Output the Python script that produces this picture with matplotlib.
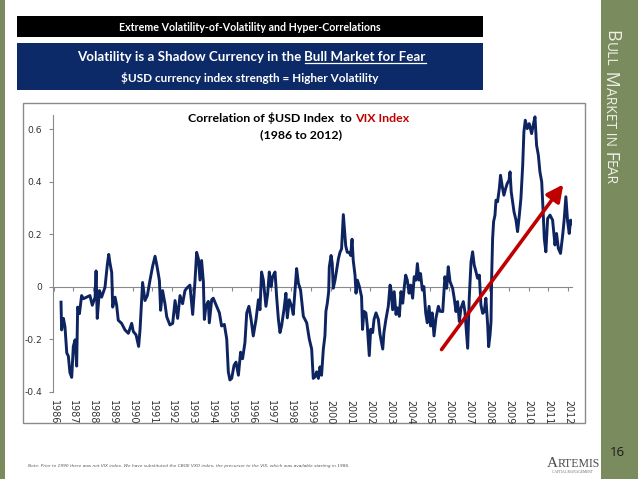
import matplotlib
matplotlib.use("Agg")
import matplotlib.pyplot as plt
from matplotlib.patches import Rectangle
from matplotlib.lines import Line2D

# ---------------- data ----------------
years = [1986.38, 1986.41, 1986.50, 1986.58, 1986.67, 1986.75, 1986.83, 1986.92, 1987.00, 1987.09,
         1987.17, 1987.22, 1987.31, 1987.42, 1987.51, 1987.68, 1987.84, 1987.96, 1988.10, 1988.15,
         1988.21, 1988.32, 1988.43, 1988.60, 1988.72, 1988.79, 1988.85, 1988.94, 1988.99, 1989.11,
         1989.19, 1989.27, 1989.44, 1989.61, 1989.78, 1989.95, 1990.03, 1990.17, 1990.30, 1990.37,
         1990.45, 1990.50, 1990.62, 1990.74, 1990.87, 1991.01, 1991.13, 1991.24, 1991.35, 1991.41,
         1991.51, 1991.63, 1991.72, 1991.88, 1992.02, 1992.14, 1992.27, 1992.39, 1992.52, 1992.64,
         1992.73, 1992.89, 1993.03, 1993.15, 1993.23, 1993.32, 1993.40, 1993.48, 1993.57, 1993.62,
         1993.70, 1993.82, 1993.87, 1993.99, 1994.07, 1994.24, 1994.38, 1994.49, 1994.63, 1994.75,
         1994.83, 1994.91, 1995.00, 1995.12, 1995.22, 1995.34, 1995.45, 1995.55, 1995.67, 1995.76,
         1995.87, 1995.98, 1996.09, 1996.23, 1996.35, 1996.43, 1996.51, 1996.60, 1996.73, 1996.82,
         1996.90, 1996.99, 1997.07, 1997.19, 1997.27, 1997.36, 1997.44, 1997.52, 1997.64, 1997.74,
         1997.81, 1997.91, 1998.03, 1998.11, 1998.20, 1998.28, 1998.37, 1998.48, 1998.62, 1998.79,
         1998.92, 1999.04, 1999.12, 1999.21, 1999.29, 1999.38, 1999.46, 1999.54, 1999.63, 1999.71,
         1999.76, 1999.83, 1999.90, 1999.93, 2000.02, 2000.08, 2000.13, 2000.22, 2000.30, 2000.39,
         2000.47, 2000.55, 2000.64, 2000.69, 2000.76, 2000.84, 2000.94, 2001.01, 2001.08, 2001.14,
         2001.23, 2001.28, 2001.35, 2001.45, 2001.56, 2001.61, 2001.68, 2001.78, 2001.85, 2001.95,
         2002.02, 2002.12, 2002.19, 2002.29, 2002.41, 2002.49, 2002.63, 2002.69, 2002.79, 2002.91,
         2003.00, 2003.05, 2003.13, 2003.21, 2003.30, 2003.38, 2003.47, 2003.55, 2003.64, 2003.72,
         2003.79, 2003.87, 2003.96, 2004.04, 2004.14, 2004.22, 2004.31, 2004.38, 2004.46, 2004.54,
         2004.63, 2004.71, 2004.80, 2004.88, 2004.97, 2005.05, 2005.13, 2005.22, 2005.32, 2005.44,
         2005.52, 2005.66, 2005.77, 2005.86, 2005.94, 2006.03, 2006.16, 2006.24, 2006.33, 2006.41,
         2006.50, 2006.58, 2006.70, 2006.78, 2006.87, 2006.92, 2007.00, 2007.09, 2007.17, 2007.25,
         2007.34, 2007.42, 2007.51, 2007.59, 2007.68, 2007.76, 2007.84, 2007.93, 2007.98, 2008.05,
         2008.10, 2008.13, 2008.18, 2008.23, 2008.30, 2008.35, 2008.43, 2008.52, 2008.58, 2008.67,
         2008.75, 2008.84, 2008.92, 2009.01, 2009.06, 2009.12, 2009.19, 2009.26, 2009.36, 2009.44,
         2009.53, 2009.61, 2009.70, 2009.76, 2009.83, 2009.93, 2010.03, 2010.15, 2010.23, 2010.32,
         2010.40, 2010.49, 2010.57, 2010.66, 2010.74, 2010.79, 2010.87, 2010.96, 2011.08, 2011.21,
         2011.33, 2011.41, 2011.50, 2011.61, 2011.72, 2011.80, 2011.88, 2011.97, 2012.05, 2012.12,
         2012.19]
corr = [-0.059, -0.165, -0.121, -0.153, -0.253, -0.265, -0.328, -0.346, -0.228, -0.203,
        -0.303, -0.078, -0.103, -0.034, -0.046, -0.040, -0.034, -0.071, -0.040, 0.060,
        -0.121, -0.015, -0.040, -0.003, 0.085, 0.123, 0.091, 0.054, -0.078, -0.040,
        -0.071, -0.128, -0.140, -0.165, -0.178, -0.140, -0.171, -0.184, -0.228, -0.165,
        -0.053, 0.016, -0.053, -0.034, 0.023, 0.079, 0.116, 0.073, 0.023, -0.090,
        -0.015, -0.065, -0.115, -0.146, -0.140, -0.053, -0.121, -0.034, -0.065, -0.015,
        -0.006, 0.006, -0.106, 0.025, 0.131, 0.106, 0.025, 0.100, 0.019, -0.125,
        -0.075, -0.056, -0.138, -0.050, -0.044, -0.075, -0.100, -0.150, -0.144, -0.200,
        -0.325, -0.356, -0.350, -0.300, -0.288, -0.338, -0.250, -0.275, -0.213, -0.100,
        -0.075, -0.125, -0.188, -0.125, -0.050, -0.088, 0.056, 0.025, -0.075, -0.025,
        0.056, 0.000, 0.038, 0.056, -0.038, -0.125, -0.175, -0.150, -0.088, -0.025,
        -0.119, -0.050, -0.075, -0.106, -0.013, 0.069, 0.013, -0.013, -0.113, -0.138,
        -0.200, -0.238, -0.350, -0.344, -0.325, -0.350, -0.306, -0.338, -0.238, -0.188,
        -0.094, -0.063, -0.019, 0.075, 0.119, 0.088, -0.006, 0.025, 0.063, 0.106,
        0.131, 0.144, 0.275, 0.225, 0.156, 0.131, 0.131, 0.119, 0.181, 0.100,
        0.044, -0.025, 0.025, 0.000, -0.038, -0.163, -0.094, -0.100, -0.150, -0.263,
        -0.163, -0.175, -0.125, -0.100, -0.125, -0.181, -0.238, -0.175, -0.125, -0.075,
        0.006, -0.013, -0.088, -0.019, -0.106, -0.081, -0.113, -0.019, -0.063, 0.000,
        0.044, 0.025, -0.025, 0.006, -0.044, 0.038, 0.025, 0.088, 0.025, 0.050,
        -0.013, 0.000, -0.100, -0.138, -0.075, -0.150, -0.100, -0.188, -0.119, -0.075,
        -0.094, -0.095, 0.038, -0.006, 0.076, 0.019, -0.006, -0.044, -0.095, -0.057,
        -0.133, -0.083, -0.057, -0.095, -0.184, -0.235, -0.044, 0.095, 0.133, 0.083,
        0.057, 0.032, 0.044, -0.070, -0.102, -0.095, -0.044, -0.146, -0.229, -0.184,
        -0.133, 0.032, 0.184, 0.248, 0.273, 0.330, 0.324, 0.375, 0.425, 0.381,
        0.349, 0.375, 0.394, 0.406, 0.438, 0.362, 0.324, 0.286, 0.254, 0.210,
        0.273, 0.337, 0.463, 0.590, 0.635, 0.603, 0.622, 0.584, 0.616, 0.648,
        0.540, 0.502, 0.438, 0.400, 0.273, 0.184, 0.133, 0.260, 0.273, 0.254,
        0.159, 0.203, 0.146, 0.127, 0.197, 0.260, 0.343, 0.248, 0.203, 0.254,
        0.241]
year_ticks = list(range(1986, 2013))
y_ticks = [-0.4, -0.2, 0.0, 0.2, 0.4, 0.6]
y_tick_labels = ["-0.4", "-0.2", "0", "0.2", "0.4", "0.6"]
arrow_start = (2005.6, -0.24)
arrow_end = (2011.75, 0.39)

GREEN = "#7a8b5e"
NAVY = "#0c2a68"
LINE = "#0d2461"
RED = "#c00000"

W, H = 638, 479
fig = plt.figure(figsize=(W / 100, H / 100), dpi=100)
fig.patch.set_facecolor("white")

def fx(px):
    return px / W

bg = fig.add_axes([0, 0, 1, 1], zorder=0)
bg.set_xlim(0, W)
bg.set_ylim(H, 0)
bg.axis("off")

# side stripes
bg.add_patch(Rectangle((0, 0), 5, H, color=GREEN, lw=0))
bg.add_patch(Rectangle((601, 0), W - 601, H, color=GREEN, lw=0))
# header bars
bg.add_patch(Rectangle((17, 16), 466, 21, color="black", lw=0))
bg.add_patch(Rectangle((17, 42.5), 466, 47.5, color=NAVY, lw=0))
# chart frame
bg.add_patch(Rectangle((22.7, 102.7), 562.3, 320.3, facecolor="white",
                       edgecolor="#8a8a8a", lw=1.0))

bg.text(250, 27, "Extreme Volatility-of-Volatility and Hyper-Correlations",
        color="white", fontsize=7.7, fontweight="bold", family="Lato",
        ha="center", va="center")

t1 = bg.text(77, 57, "Volatility is a Shadow Currency in the ", color="white",
             fontsize=9.6, fontweight="bold", family="Lato", ha="left", va="center")
t2 = bg.annotate("Bull Market for Fear", xy=(1, 0), xycoords=t1, color="white",
                 fontsize=9.6, fontweight="bold", family="Lato", ha="left", va="bottom")
bg.text(250, 78, "$USD currency index strength = Higher Volatility", color="white",
        fontsize=8.5, fontweight="bold", family="Lato", ha="center", va="center",
        parse_math=False)

# chart title
c1 = bg.text(188, 118, "Correlation of $USD Index  to ", color="black", fontsize=8.9,
             fontweight="bold", family="Lato", ha="left", va="center", parse_math=False)
bg.annotate("VIX Index", xy=(1, 0), xycoords=c1, color=RED, fontsize=8.9,
            fontweight="bold", family="Lato", ha="left", va="bottom")
bg.text(301, 134.5, "(1986 to 2012)", color="black", fontsize=8.9,
        fontweight="bold", family="Lato", ha="center", va="center")

# sidebar small caps text
pieces = [("B", 13), ("ULL", 10), (" M", 13), ("ARKET", 10), (" IN", 10),
          (" F", 13), ("EAR", 10)]
prev = bg.text(602, 30, pieces[0][0], color="#eef0e6", fontsize=pieces[0][1],
               family="Open Sans", rotation=-90, ha="left", va="top")
for s, sz in pieces[1:]:
    prev = bg.annotate(s, xy=(0, 0), xycoords=prev, color="#eef0e6", fontsize=sz,
                       family="Open Sans", rotation=-90, ha="left", va="top")

bg.text(617, 452, "16", color="#1a1a1a", fontsize=9.5, family="Open Sans",
        ha="center", va="center")

bg.text(28, 466, "Note: Prior to 1990 there was not VIX index. We have substituted the CBOE VXO "
        "index, the precursor to the VIX, which was available starting in 1986.",
        color="#555555", fontsize=3.1, style="italic", ha="left", va="center")

# logo text
a1 = bg.text(547, 467, "A", color="#4a4a4a", fontsize=11, family="Liberation Serif",
             ha="left", va="baseline")
bg.annotate("RTEMIS", xy=(1, 0), xycoords=a1, color="#4a4a4a", fontsize=8.5,
            family="Liberation Serif", ha="left", va="bottom")
bg.text(572, 472, "CAPITAL MANAGEMENT", color="#6a6a6a", fontsize=2.6,
        family="Liberation Serif", ha="center", va="center")

# ---------------- main chart ----------------
ax = fig.add_axes([fx(53.5), 1 - 391.5 / H, (572 - 53.5) / W, (391.5 - 115) / H], zorder=1)
ax.set_facecolor("none")
ax.plot(years, corr, color=LINE, lw=2.1, solid_joinstyle="round", zorder=3)
ax.set_xlim(1986, 2012.19)
ax.set_ylim(-0.4, 0.655)

ax.spines["top"].set_visible(False)
ax.spines["right"].set_visible(False)
ax.spines["left"].set_color("#8a8a8a")
ax.spines["left"].set_linewidth(0.8)
ax.spines["bottom"].set_position(("data", 0))
ax.spines["bottom"].set_color("#8a8a8a")
ax.spines["bottom"].set_linewidth(0.8)

ax.set_yticks(y_ticks)
ax.set_yticklabels(y_tick_labels)
ax.tick_params(axis="y", direction="out", length=3, width=0.8, color="#8a8a8a",
               labelsize=6.6, labelcolor="#333333", pad=5)
ax.set_xticks(year_ticks)
ax.tick_params(axis="x", direction="out", length=3, width=0.8, color="#8a8a8a",
               labelbottom=False)

sec = ax.secondary_xaxis("bottom")
sec.set_xticks(year_ticks)
sec.set_xticklabels([str(y) for y in year_ticks], rotation=-90)
sec.spines["bottom"].set_visible(False)
sec.tick_params(axis="x", length=0, labelsize=6.9, labelcolor="#333333", pad=6)

ax.annotate("", xy=arrow_end, xytext=arrow_start,
            arrowprops=dict(arrowstyle="-|>,head_length=1.0,head_width=0.5",
                            color=RED, lw=2.6, shrinkA=0, shrinkB=0), zorder=4)

fig.canvas.draw()
# underline for "Bull Market for Fear"
bb = t2.get_window_extent()
inv = bg.transData.inverted()
(x0, y0), (x1, y1) = inv.transform([[bb.x0, bb.y0], [bb.x1, bb.y0]])
bg.add_line(Line2D([x0, x1], [y0 - 0.5, y0 - 0.5], color="white", lw=0.9))

fig.savefig("out.png", dpi=100, facecolor=fig.get_facecolor())
